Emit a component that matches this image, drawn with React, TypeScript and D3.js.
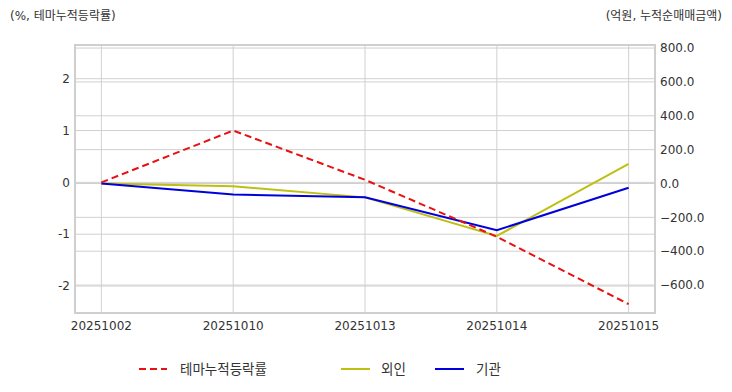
import React from 'react';
import * as d3 from 'd3';

const dates = ['20251002', '20251010', '20251013', '20251014', '20251015'];
const themeRate = [0, 1.0, 0.05, -1.05, -2.35];
const foreign = [0, -16, -82, -310, 116];
const institution = [0, -65, -82, -276, -25];
const leftTicks = [-2, -1, 0, 1, 2];
const rightTicks = [-600, -400, -200, 0, 200, 400, 600, 800];

const W = 732;
const H = 392;
const margin = { top: 45, right: 77, bottom: 79, left: 75 };
const font = '"DejaVu Sans", "Noto Sans CJK KR", sans-serif';

export default function App() {
    const innerW = W - margin.left - margin.right;
    const innerH = H - margin.top - margin.bottom;

    const x = d3.scalePoint<string>().domain(dates).range([0, innerW]).padding(0.2);
    const yL = d3.scaleLinear().domain([-2.52, 2.65]).range([innerH, 0]);
    const yR = d3.scaleLinear().domain([-765, 818]).range([innerH, 0]);

    const lineL = d3.line<number>().x((_, i) => x(dates[i])!).y(d => yL(d));
    const lineR = d3.line<number>().x((_, i) => x(dates[i])!).y(d => yR(d));

    const grid = '#d0d0d0';
    const txt = '#333';

    return (
        <svg width={W} height={H} style={{ position: 'absolute', left: 0, top: 0, background: '#fff' }}>
            <text x={10} y={20} fontSize={12} fill={txt} fontFamily={font}>(%, 테마누적등락률)</text>
            <text x={722} y={20} fontSize={12} fill={txt} fontFamily={font} textAnchor="end">(억원, 누적순매매금액)</text>

            <g transform={`translate(${margin.left},${margin.top})`}>
                {leftTicks.map(t => (
                    <line key={'gl' + t} x1={0} x2={innerW} y1={yL(t)} y2={yL(t)} stroke={grid} strokeWidth={1} />
                ))}
                {rightTicks.map(t => (
                    <line key={'gr' + t} x1={0} x2={innerW} y1={yR(t)} y2={yR(t)} stroke={grid} strokeWidth={1} />
                ))}
                {dates.map(d => (
                    <line key={'gv' + d} x1={x(d)} x2={x(d)} y1={0} y2={innerH} stroke={grid} strokeWidth={1} />
                ))}
                <rect x={0} y={0} width={innerW} height={innerH} fill="none" stroke="#cfcfcf" strokeWidth={2} />

                {leftTicks.map(t => (
                    <text key={'tl' + t} x={-5} y={yL(t)} dy="0.35em" textAnchor="end" fontSize={12} fill={txt} fontFamily={font}>{t}</text>
                ))}
                {rightTicks.map(t => (
                    <text key={'tr' + t} x={innerW + 5} y={yR(t)} dy="0.35em" textAnchor="start" fontSize={12} fill={txt} fontFamily={font}>{d3.format('.1f')(t)}</text>
                ))}
                {dates.map(d => (
                    <text key={'tx' + d} x={x(d)} y={innerH + 17} textAnchor="middle" fontSize={12} fill={txt} fontFamily={font}>{d}</text>
                ))}

                <path d={lineR(foreign)!} fill="none" stroke="#bfbf12" strokeWidth={2} />
                <path d={lineR(institution)!} fill="none" stroke="#0000dd" strokeWidth={2} />
                <path d={lineL(themeRate)!} fill="none" stroke="#e81010" strokeWidth={2} strokeDasharray="7,4" />
            </g>

            <g fontFamily={font} fontSize={13.5} fill={txt}>
                <line x1={139} x2={167} y1={369} y2={369} stroke="#e81010" strokeWidth={2} strokeDasharray="7,4" />
                <text x={180} y={369} dy="0.35em">테마누적등락률</text>
                <line x1={341} x2={370} y1={369} y2={369} stroke="#bfbf12" strokeWidth={2} />
                <text x={381} y={369} dy="0.35em">외인</text>
                <line x1={435} x2={464} y1={369} y2={369} stroke="#0000dd" strokeWidth={2} />
                <text x={476} y={369} dy="0.35em">기관</text>
            </g>
        </svg>
    );
}
